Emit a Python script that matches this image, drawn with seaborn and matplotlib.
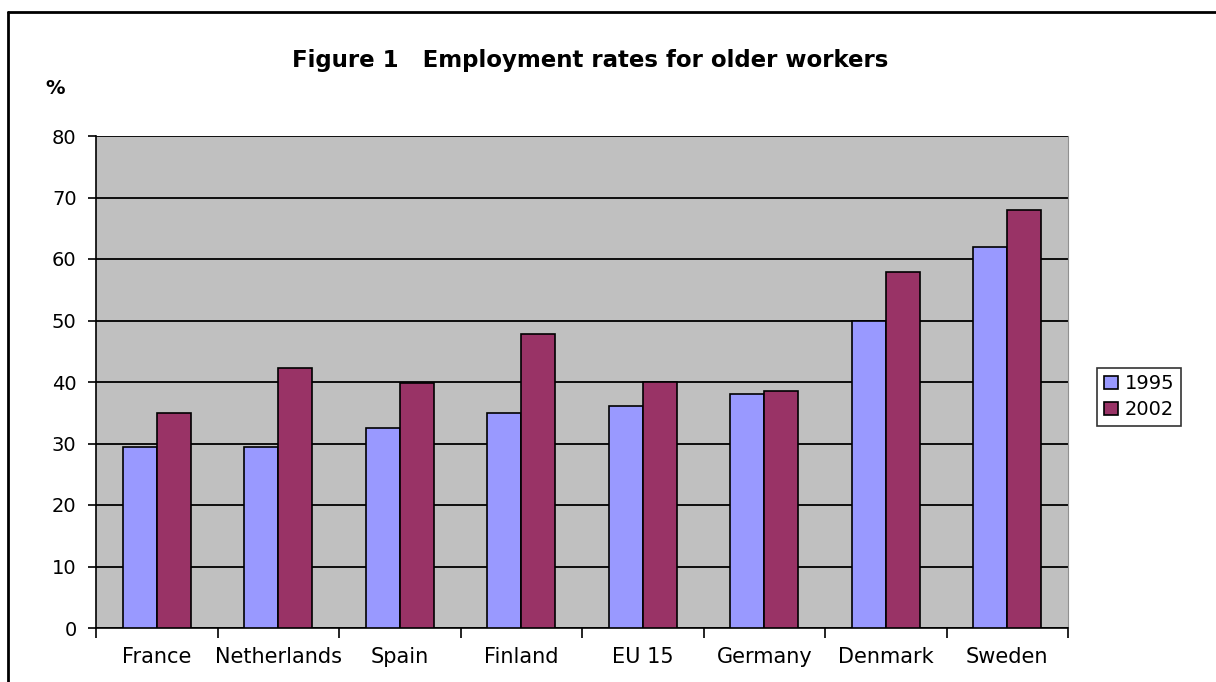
import numpy as np
import pandas as pd
import matplotlib.pyplot as plt
import seaborn as sns

# data
countries = ['France', 'Netherlands', 'Spain', 'Finland', 'EU 15', 'Germany', 'Denmark', 'Sweden']
rate_1995 = [29.4, 29.4, 32.5, 34.9, 36.1, 38.0, 49.9, 61.9]
rate_2002 = [35.0, 42.2, 39.9, 47.8, 40.0, 38.6, 57.9, 68.0]
years = ['1995', '2002']
yticks = [0, 10, 20, 30, 40, 50, 60, 70, 80]


def main():
    df = pd.DataFrame({
        'country': countries * 2,
        'year': [years[0]] * len(countries) + [years[1]] * len(countries),
        'rate': rate_1995 + rate_2002,
    })

    sns.set_style('white')
    plt.rcParams['font.family'] = ['DejaVu Sans']
    plt.rcParams['text.color'] = 'black'
    plt.rcParams['xtick.color'] = 'black'
    plt.rcParams['ytick.color'] = 'black'

    fig = plt.figure(figsize=(12.16, 6.82), dpi=100)
    ax = fig.add_axes([96 / 1216, 1 - 628 / 682, (1068 - 96) / 1216, (628 - 136) / 682])
    ax.set_facecolor('#C0C0C0')

    sns.barplot(data=df, x='country', y='rate', hue='year', order=countries,
                palette={'1995': '#9999FF', '2002': '#993366'},
                width=0.56, edgecolor='black', linewidth=1.2, errorbar=None,
                saturation=1, ax=ax, zorder=3)

    ax.set_ylim(0, 80)
    ax.set_xlim(-0.5, len(countries) - 0.5)
    ax.set_yticks(yticks)
    ax.yaxis.grid(True, color='black', linewidth=1.3, zorder=1)
    ax.set_axisbelow(True)
    ax.set_xlabel('')
    ax.set_ylabel('')

    # x ticks sit between categories, labels in the middle
    ax.set_xticks(np.arange(-0.5, len(countries), 1.0), minor=False)
    ax.set_xticklabels([])
    ax.set_xticks(np.arange(len(countries)), minor=True)
    ax.set_xticklabels(countries, minor=True, fontsize=15)
    ax.tick_params(axis='x', which='major', bottom=True, direction='out', length=7, width=1.2)
    ax.tick_params(axis='x', which='minor', bottom=True, length=0, pad=14)
    ax.tick_params(axis='y', left=True, direction='out', length=6, width=1.2, labelsize=14, pad=8)

    ax.spines['top'].set_visible(False)
    ax.spines['right'].set_color('#909090')
    ax.spines['left'].set_color('black')
    ax.spines['bottom'].set_color('black')
    ax.spines['left'].set_linewidth(1.2)
    ax.spines['bottom'].set_linewidth(1.2)

    leg = ax.legend(loc='center left', bbox_to_anchor=(1.02, 0.47), frameon=True,
                    fancybox=False, edgecolor='black', fontsize=14,
                    handlelength=0.7, handleheight=0.7, handletextpad=0.35,
                    borderpad=0.35, labelspacing=0.35)
    leg.get_frame().set_linewidth(1.2)

    fig.text(590 / 1216, 1 - 60 / 682, 'Figure 1   Employment rates for older workers',
             ha='center', va='center', fontsize=16.5, fontweight='bold')
    fig.text(45 / 1216, 1 - 88 / 682, '%', ha='left', va='center', fontsize=14, fontweight='bold')

    # outer frame of the figure
    fig.add_artist(plt.Line2D([8 / 1216, 8 / 1216], [0, 1 - 12 / 682], color='black', linewidth=2,
                              transform=fig.transFigure))
    fig.add_artist(plt.Line2D([8 / 1216, 1], [1 - 12 / 682, 1 - 12 / 682], color='black', linewidth=2,
                              transform=fig.transFigure))

    fig.savefig('out.png', dpi=100)


if __name__ == "__main__":
    main()
